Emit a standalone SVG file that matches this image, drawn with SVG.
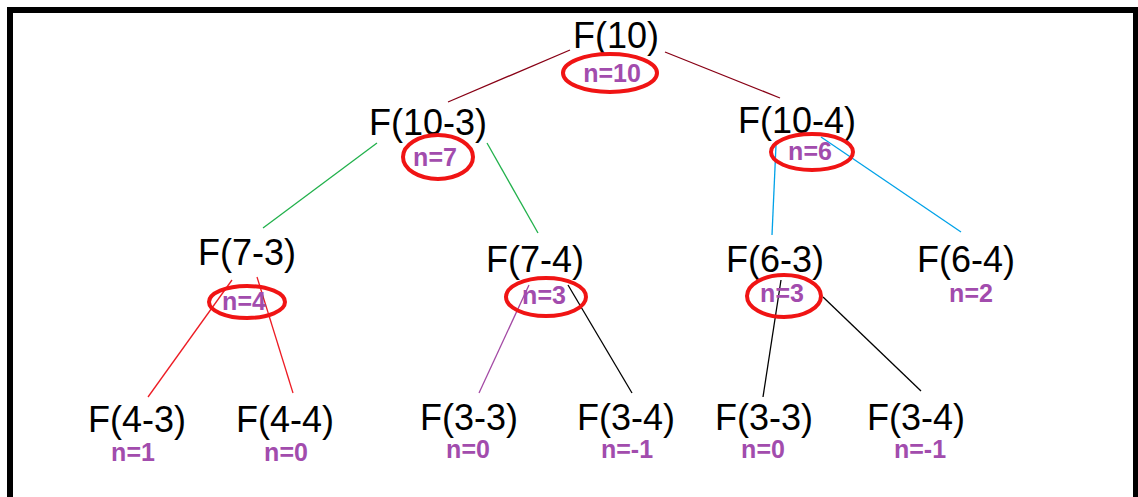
<svg xmlns="http://www.w3.org/2000/svg" width="1138" height="497" viewBox="0 0 1138 497">
<style>
.f{font-family:"Liberation Sans",Arial,sans-serif;font-size:36px;fill:#000;text-anchor:middle}
.n{font-family:"Liberation Sans",Arial,sans-serif;font-size:25px;font-weight:bold;fill:#a24cad;text-anchor:middle}
.ring{fill:none;stroke:#f01414;stroke-width:4}
.c{fill:none;stroke-width:1.3}
</style>
<rect x="0" y="0" width="1138" height="497" fill="#fff"/>
<g id="frame" fill="#000">
<rect x="7" y="7" width="1131" height="6"/>
<rect x="7" y="7" width="6" height="490"/>
<rect x="1133" y="7" width="5" height="490"/>
</g>
<g id="connectors">
<line class="c" stroke="#880015" x1="570" y1="50" x2="448" y2="102"/>
<line class="c" stroke="#880015" x1="665" y1="52" x2="780" y2="98"/>
<line class="c" stroke="#22b14c" x1="377" y1="143" x2="263" y2="228"/>
<line class="c" stroke="#22b14c" x1="487" y1="143" x2="538" y2="233"/>
<line class="c" stroke="#00a2e8" x1="776" y1="145" x2="772" y2="235"/>
<line class="c" stroke="#00a2e8" x1="821" y1="137" x2="961" y2="232"/>
<line class="c" stroke="#ed1c24" x1="232" y1="280" x2="148" y2="397"/>
<line class="c" stroke="#ed1c24" x1="257" y1="277" x2="293" y2="393"/>
<line class="c" stroke="#a349a4" x1="529" y1="285" x2="479" y2="393"/>
<line class="c" stroke="#000" x1="568" y1="285" x2="632" y2="393"/>
<line class="c" stroke="#000" x1="781" y1="280" x2="763" y2="397"/>
<line class="c" stroke="#000" x1="823" y1="297" x2="921" y2="391"/>
</g>
<g id="node-f10">
<text class="f" x="616" y="48">F(10)</text>
<ellipse class="ring" cx="610" cy="73" rx="47" ry="19"/>
<text class="n" x="612" y="82">n=10</text>
</g>
<g id="node-f10-3">
<text class="f" x="428" y="135">F(10-3)</text>
<ellipse class="ring" cx="438" cy="157" rx="35" ry="22"/>
<text class="n" x="435" y="166">n=7</text>
</g>
<g id="node-f10-4">
<text class="f" x="797" y="133">F(10-4)</text>
<ellipse class="ring" cx="812" cy="152" rx="41" ry="18"/>
<text class="n" x="810" y="160">n=6</text>
</g>
<g id="node-f7-3">
<text class="f" x="247" y="265">F(7-3)</text>
<ellipse class="ring" cx="247" cy="302" rx="38" ry="16"/>
<text class="n" x="244" y="310">n=4</text>
</g>
<g id="node-f7-4">
<text class="f" x="535" y="272">F(7-4)</text>
<ellipse class="ring" cx="546" cy="297" rx="40" ry="19"/>
<text class="n" x="544" y="304">n=3</text>
</g>
<g id="node-f6-3">
<text class="f" x="775" y="272">F(6-3)</text>
<ellipse class="ring" cx="784" cy="296" rx="37" ry="21"/>
<text class="n" x="782" y="302">n=3</text>
</g>
<g id="node-f6-4">
<text class="f" x="966" y="272">F(6-4)</text>
<text class="n" x="971" y="302">n=2</text>
</g>
<g id="node-f4-3">
<text class="f" x="137" y="432">F(4-3)</text>
<text class="n" x="133" y="461">n=1</text>
</g>
<g id="node-f4-4">
<text class="f" x="285" y="432">F(4-4)</text>
<text class="n" x="286" y="461">n=0</text>
</g>
<g id="node-f3-3a">
<text class="f" x="469" y="430">F(3-3)</text>
<text class="n" x="468" y="458">n=0</text>
</g>
<g id="node-f3-4a">
<text class="f" x="626" y="430">F(3-4)</text>
<text class="n" x="627" y="458">n=-1</text>
</g>
<g id="node-f3-3b">
<text class="f" x="764" y="430">F(3-3)</text>
<text class="n" x="763" y="458">n=0</text>
</g>
<g id="node-f3-4b">
<text class="f" x="916" y="430">F(3-4)</text>
<text class="n" x="920" y="458">n=-1</text>
</g>
</svg>
